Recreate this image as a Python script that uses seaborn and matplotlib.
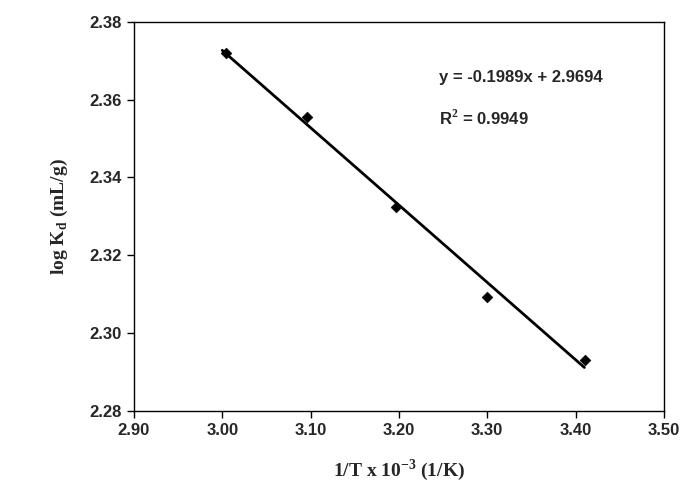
import numpy as np
import matplotlib
matplotlib.use("Agg")
import matplotlib.pyplot as plt
import seaborn as sns

inv_t = [3.004, 3.096, 3.197, 3.300, 3.411]
log_kd = [2.372, 2.3555, 2.3325, 2.3093, 2.293]
slope = -0.1989
intercept = 2.9694

sns.set_style("white")
plt.rcParams["mathtext.fontset"] = "custom"
plt.rcParams["mathtext.bf"] = "Liberation Serif:bold"
plt.rcParams["mathtext.rm"] = "Liberation Sans"

fig = plt.figure(figsize=(6.83, 4.98), dpi=100)
ax = fig.add_axes([0.196, 0.175, 0.776, 0.781])

xs = np.array([3.0, 3.41])
sns.lineplot(x=xs, y=slope * xs + intercept, ax=ax, color="black", linewidth=2)
sns.scatterplot(x=inv_t, y=log_kd, ax=ax, marker="D", color="black", s=30, edgecolor="black", zorder=3)

ax.set_xlim(2.90, 3.50)
ax.set_ylim(2.28, 2.38)
ax.set_xticks(np.arange(2.90, 3.501, 0.10))
ax.set_yticks(np.arange(2.28, 2.381, 0.02))
ax.xaxis.set_major_formatter(matplotlib.ticker.FormatStrFormatter("%.2f"))
ax.yaxis.set_major_formatter(matplotlib.ticker.FormatStrFormatter("%.2f"))
ax.tick_params(direction="out", length=5, width=1, labelsize=12, color="black", bottom=True, left=True)
for lab in ax.get_xticklabels() + ax.get_yticklabels():
    lab.set_fontfamily("Liberation Sans")
    lab.set_fontweight("bold")
for sp in ax.spines.values():
    sp.set_color("black")
    sp.set_linewidth(1)

ax.set_xlabel(r"1/T x 10$^{\mathbf{-3}}$ (1/K)", fontfamily="Liberation Serif", fontweight="bold", fontsize=14, labelpad=14)
ax.set_ylabel(r"log K$_{\mathbf{d}}$ (mL/g)", fontfamily="Liberation Serif", fontweight="bold", fontsize=14, labelpad=14)

ax.text(3.245, 2.3645, "y = -0.1989x + 2.9694", fontfamily="Liberation Sans", fontweight="bold", fontsize=12)
ax.text(3.245, 2.3535, r"R$^{\mathbf{2}}$ = 0.9949", fontfamily="Liberation Sans", fontweight="bold", fontsize=12)

fig.savefig("out.png", dpi=100)
